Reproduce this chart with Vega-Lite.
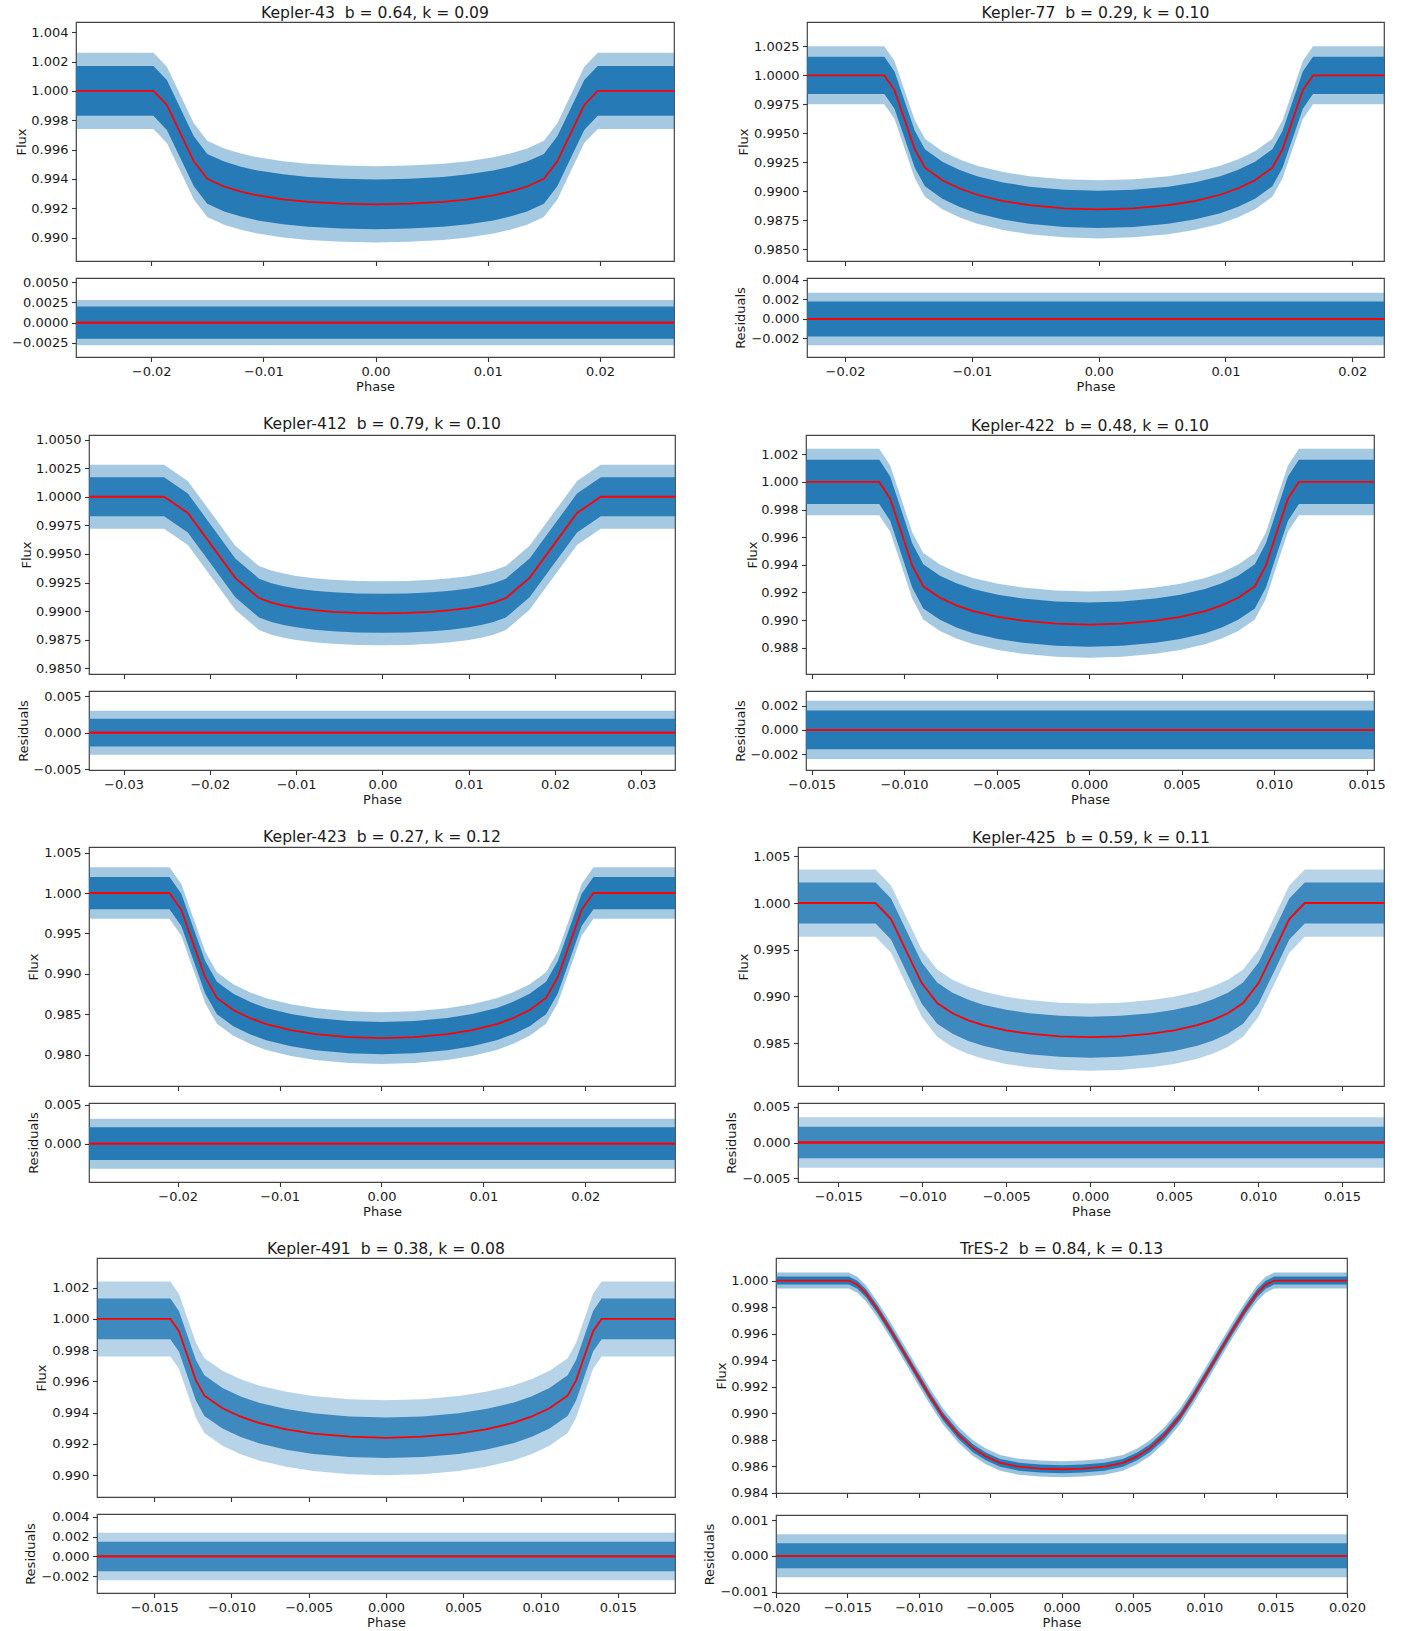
{
"$schema": "https://vega.github.io/schema/vega-lite/v6.json",
"background": "white",
"padding": {"left": 0, "top": 5, "right": 0, "bottom": 0},
"config": {
 "font": "DejaVu Sans",
 "view": {"stroke": "#444", "strokeWidth": 1.2},
 "axis": {"domain": false, "grid": false, "ticks": true, "tickColor": "#333", "tickSize": 4.5, "tickWidth": 1.1, "tickCount": 50, "labelFont": "DejaVu Sans", "labelFontSize": 13, "labelColor": "#1a1a1a", "labelPadding": 3.5, "labelFlush": false, "labelOverlap": false, "titleFont": "DejaVu Sans", "titleFontSize": 13, "titleFontWeight": "normal", "titleColor": "#1a1a1a"},
 "title": {"font": "DejaVu Sans", "fontSize": 15.6, "fontWeight": "normal", "color": "#1a1a1a", "baseline": "alphabetic", "offset": 0.6, "anchor": "middle", "frame": "group"}
},
"datasets": {
 "k43": [
  {"phase":-0.0267,"model":1,"lo1":0.9983,"hi1":1.0017,"lo2":0.9974,"hi2":1.0026},
  {"phase":-0.0198,"model":1,"lo1":0.9983,"hi1":1.0017,"lo2":0.9974,"hi2":1.0026},
  {"phase":-0.0186,"model":0.99904,"lo1":0.99734,"hi1":1.00074,"lo2":0.99644,"hi2":1.00164},
  {"phase":-0.0174,"model":0.99712,"lo1":0.99542,"hi1":0.99882,"lo2":0.99452,"hi2":0.99972},
  {"phase":-0.0162,"model":0.9952,"lo1":0.9935,"hi1":0.9969,"lo2":0.9926,"hi2":0.9978},
  {"phase":-0.015,"model":0.994,"lo1":0.9923,"hi1":0.9957,"lo2":0.9914,"hi2":0.9966},
  {"phase":-0.0135,"model":0.99348,"lo1":0.99178,"hi1":0.99518,"lo2":0.99088,"hi2":0.99608},
  {"phase":-0.012,"model":0.99313,"lo1":0.99143,"hi1":0.99483,"lo2":0.99053,"hi2":0.99573},
  {"phase":-0.0105,"model":0.99287,"lo1":0.99117,"hi1":0.99457,"lo2":0.99027,"hi2":0.99547},
  {"phase":-0.00825,"model":0.99261,"lo1":0.99091,"hi1":0.99431,"lo2":0.99001,"hi2":0.99521},
  {"phase":-0.006,"model":0.99243,"lo1":0.99073,"hi1":0.99413,"lo2":0.98983,"hi2":0.99503},
  {"phase":-0.003,"model":0.99231,"lo1":0.99061,"hi1":0.99401,"lo2":0.98971,"hi2":0.99491},
  {"phase":0,"model":0.99226,"lo1":0.99056,"hi1":0.99396,"lo2":0.98966,"hi2":0.99486},
  {"phase":0.003,"model":0.99231,"lo1":0.99061,"hi1":0.99401,"lo2":0.98971,"hi2":0.99491},
  {"phase":0.006,"model":0.99243,"lo1":0.99073,"hi1":0.99413,"lo2":0.98983,"hi2":0.99503},
  {"phase":0.00825,"model":0.99261,"lo1":0.99091,"hi1":0.99431,"lo2":0.99001,"hi2":0.99521},
  {"phase":0.0105,"model":0.99287,"lo1":0.99117,"hi1":0.99457,"lo2":0.99027,"hi2":0.99547},
  {"phase":0.012,"model":0.99313,"lo1":0.99143,"hi1":0.99483,"lo2":0.99053,"hi2":0.99573},
  {"phase":0.0135,"model":0.99348,"lo1":0.99178,"hi1":0.99518,"lo2":0.99088,"hi2":0.99608},
  {"phase":0.015,"model":0.994,"lo1":0.9923,"hi1":0.9957,"lo2":0.9914,"hi2":0.9966},
  {"phase":0.0162,"model":0.9952,"lo1":0.9935,"hi1":0.9969,"lo2":0.9926,"hi2":0.9978},
  {"phase":0.0174,"model":0.99712,"lo1":0.99542,"hi1":0.99882,"lo2":0.99452,"hi2":0.99972},
  {"phase":0.0186,"model":0.99904,"lo1":0.99734,"hi1":1.00074,"lo2":0.99644,"hi2":1.00164},
  {"phase":0.0198,"model":1,"lo1":0.9983,"hi1":1.0017,"lo2":0.9974,"hi2":1.0026},
  {"phase":0.0266,"model":1,"lo1":0.9983,"hi1":1.0017,"lo2":0.9974,"hi2":1.0026}
 ],
 "k77": [
  {"phase":-0.023,"model":1,"lo1":0.9984,"hi1":1.0016,"lo2":0.9975,"hi2":1.0025},
  {"phase":-0.0169,"model":1,"lo1":0.9984,"hi1":1.0016,"lo2":0.9975,"hi2":1.0025},
  {"phase":-0.0161,"model":0.99873,"lo1":0.99713,"hi1":1.00033,"lo2":0.99623,"hi2":1.00123},
  {"phase":-0.0153,"model":0.99618,"lo1":0.99458,"hi1":0.99778,"lo2":0.99368,"hi2":0.99868},
  {"phase":-0.0145,"model":0.99363,"lo1":0.99203,"hi1":0.99523,"lo2":0.99113,"hi2":0.99613},
  {"phase":-0.0137,"model":0.99204,"lo1":0.99044,"hi1":0.99364,"lo2":0.98954,"hi2":0.99454},
  {"phase":-0.01233,"model":0.99096,"lo1":0.98936,"hi1":0.99256,"lo2":0.98846,"hi2":0.99346},
  {"phase":-0.01096,"model":0.99025,"lo1":0.98865,"hi1":0.99185,"lo2":0.98775,"hi2":0.99275},
  {"phase":-0.00959,"model":0.98971,"lo1":0.98811,"hi1":0.99131,"lo2":0.98721,"hi2":0.99221},
  {"phase":-0.00754,"model":0.98917,"lo1":0.98757,"hi1":0.99077,"lo2":0.98667,"hi2":0.99167},
  {"phase":-0.00548,"model":0.98881,"lo1":0.98721,"hi1":0.99041,"lo2":0.98631,"hi2":0.99131},
  {"phase":-0.00274,"model":0.98854,"lo1":0.98694,"hi1":0.99014,"lo2":0.98604,"hi2":0.99104},
  {"phase":0,"model":0.98845,"lo1":0.98685,"hi1":0.99005,"lo2":0.98595,"hi2":0.99095},
  {"phase":0.00274,"model":0.98854,"lo1":0.98694,"hi1":0.99014,"lo2":0.98604,"hi2":0.99104},
  {"phase":0.00548,"model":0.98881,"lo1":0.98721,"hi1":0.99041,"lo2":0.98631,"hi2":0.99131},
  {"phase":0.00754,"model":0.98917,"lo1":0.98757,"hi1":0.99077,"lo2":0.98667,"hi2":0.99167},
  {"phase":0.00959,"model":0.98971,"lo1":0.98811,"hi1":0.99131,"lo2":0.98721,"hi2":0.99221},
  {"phase":0.01096,"model":0.99025,"lo1":0.98865,"hi1":0.99185,"lo2":0.98775,"hi2":0.99275},
  {"phase":0.01233,"model":0.99096,"lo1":0.98936,"hi1":0.99256,"lo2":0.98846,"hi2":0.99346},
  {"phase":0.0137,"model":0.99204,"lo1":0.99044,"hi1":0.99364,"lo2":0.98954,"hi2":0.99454},
  {"phase":0.0145,"model":0.99363,"lo1":0.99203,"hi1":0.99523,"lo2":0.99113,"hi2":0.99613},
  {"phase":0.0153,"model":0.99618,"lo1":0.99458,"hi1":0.99778,"lo2":0.99368,"hi2":0.99868},
  {"phase":0.0161,"model":0.99873,"lo1":0.99713,"hi1":1.00033,"lo2":0.99623,"hi2":1.00123},
  {"phase":0.0169,"model":1,"lo1":0.9984,"hi1":1.0016,"lo2":0.9975,"hi2":1.0025},
  {"phase":0.0225,"model":1,"lo1":0.9984,"hi1":1.0016,"lo2":0.9975,"hi2":1.0025}
 ],
 "k412": [
  {"phase":-0.034,"model":1,"lo1":0.9983,"hi1":1.0017,"lo2":0.9972,"hi2":1.0028},
  {"phase":-0.0253,"model":1,"lo1":0.9983,"hi1":1.0017,"lo2":0.9972,"hi2":1.0028},
  {"phase":-0.02255,"model":0.99858,"lo1":0.99688,"hi1":1.00028,"lo2":0.99578,"hi2":1.00138},
  {"phase":-0.0198,"model":0.99575,"lo1":0.99405,"hi1":0.99745,"lo2":0.99295,"hi2":0.99855},
  {"phase":-0.01705,"model":0.99291,"lo1":0.99121,"hi1":0.99461,"lo2":0.99011,"hi2":0.99571},
  {"phase":-0.0143,"model":0.99114,"lo1":0.98944,"hi1":0.99284,"lo2":0.98834,"hi2":0.99394},
  {"phase":-0.01287,"model":0.99074,"lo1":0.98904,"hi1":0.99244,"lo2":0.98794,"hi2":0.99354},
  {"phase":-0.01144,"model":0.99048,"lo1":0.98878,"hi1":0.99218,"lo2":0.98768,"hi2":0.99328},
  {"phase":-0.01001,"model":0.99028,"lo1":0.98858,"hi1":0.99198,"lo2":0.98748,"hi2":0.99308},
  {"phase":-0.00787,"model":0.99008,"lo1":0.98838,"hi1":0.99178,"lo2":0.98728,"hi2":0.99288},
  {"phase":-0.00572,"model":0.98994,"lo1":0.98824,"hi1":0.99164,"lo2":0.98714,"hi2":0.99274},
  {"phase":-0.00286,"model":0.98984,"lo1":0.98814,"hi1":0.99154,"lo2":0.98704,"hi2":0.99264},
  {"phase":0,"model":0.98981,"lo1":0.98811,"hi1":0.99151,"lo2":0.98701,"hi2":0.99261},
  {"phase":0.00286,"model":0.98984,"lo1":0.98814,"hi1":0.99154,"lo2":0.98704,"hi2":0.99264},
  {"phase":0.00572,"model":0.98994,"lo1":0.98824,"hi1":0.99164,"lo2":0.98714,"hi2":0.99274},
  {"phase":0.00787,"model":0.99008,"lo1":0.98838,"hi1":0.99178,"lo2":0.98728,"hi2":0.99288},
  {"phase":0.01001,"model":0.99028,"lo1":0.98858,"hi1":0.99198,"lo2":0.98748,"hi2":0.99308},
  {"phase":0.01144,"model":0.99048,"lo1":0.98878,"hi1":0.99218,"lo2":0.98768,"hi2":0.99328},
  {"phase":0.01287,"model":0.99074,"lo1":0.98904,"hi1":0.99244,"lo2":0.98794,"hi2":0.99354},
  {"phase":0.0143,"model":0.99114,"lo1":0.98944,"hi1":0.99284,"lo2":0.98834,"hi2":0.99394},
  {"phase":0.01705,"model":0.99291,"lo1":0.99121,"hi1":0.99461,"lo2":0.99011,"hi2":0.99571},
  {"phase":0.0198,"model":0.99575,"lo1":0.99405,"hi1":0.99745,"lo2":0.99295,"hi2":0.99855},
  {"phase":0.02255,"model":0.99858,"lo1":0.99688,"hi1":1.00028,"lo2":0.99578,"hi2":1.00138},
  {"phase":0.0253,"model":1,"lo1":0.9983,"hi1":1.0017,"lo2":0.9972,"hi2":1.0028},
  {"phase":0.0339,"model":1,"lo1":0.9983,"hi1":1.0017,"lo2":0.9972,"hi2":1.0028}
 ],
 "k422": [
  {"phase":-0.0153,"model":1,"lo1":0.9984,"hi1":1.0016,"lo2":0.9976,"hi2":1.0024},
  {"phase":-0.01134,"model":1,"lo1":0.9984,"hi1":1.0016,"lo2":0.9976,"hi2":1.0024},
  {"phase":-0.01075,"model":0.99879,"lo1":0.99719,"hi1":1.00039,"lo2":0.99639,"hi2":1.00119},
  {"phase":-0.01015,"model":0.99638,"lo1":0.99478,"hi1":0.99798,"lo2":0.99398,"hi2":0.99878},
  {"phase":-0.00956,"model":0.99396,"lo1":0.99236,"hi1":0.99556,"lo2":0.99156,"hi2":0.99636},
  {"phase":-0.00896,"model":0.99245,"lo1":0.99085,"hi1":0.99405,"lo2":0.99005,"hi2":0.99485},
  {"phase":-0.00806,"model":0.99162,"lo1":0.99002,"hi1":0.99322,"lo2":0.98922,"hi2":0.99402},
  {"phase":-0.00717,"model":0.99107,"lo1":0.98947,"hi1":0.99267,"lo2":0.98867,"hi2":0.99347},
  {"phase":-0.00627,"model":0.99065,"lo1":0.98905,"hi1":0.99225,"lo2":0.98825,"hi2":0.99305},
  {"phase":-0.00493,"model":0.99023,"lo1":0.98863,"hi1":0.99183,"lo2":0.98783,"hi2":0.99263},
  {"phase":-0.00358,"model":0.98996,"lo1":0.98836,"hi1":0.99156,"lo2":0.98756,"hi2":0.99236},
  {"phase":-0.00179,"model":0.98975,"lo1":0.98815,"hi1":0.99135,"lo2":0.98735,"hi2":0.99215},
  {"phase":0,"model":0.98968,"lo1":0.98808,"hi1":0.99128,"lo2":0.98728,"hi2":0.99208},
  {"phase":0.00179,"model":0.98975,"lo1":0.98815,"hi1":0.99135,"lo2":0.98735,"hi2":0.99215},
  {"phase":0.00358,"model":0.98996,"lo1":0.98836,"hi1":0.99156,"lo2":0.98756,"hi2":0.99236},
  {"phase":0.00493,"model":0.99023,"lo1":0.98863,"hi1":0.99183,"lo2":0.98783,"hi2":0.99263},
  {"phase":0.00627,"model":0.99065,"lo1":0.98905,"hi1":0.99225,"lo2":0.98825,"hi2":0.99305},
  {"phase":0.00717,"model":0.99107,"lo1":0.98947,"hi1":0.99267,"lo2":0.98867,"hi2":0.99347},
  {"phase":0.00806,"model":0.99162,"lo1":0.99002,"hi1":0.99322,"lo2":0.98922,"hi2":0.99402},
  {"phase":0.00896,"model":0.99245,"lo1":0.99085,"hi1":0.99405,"lo2":0.99005,"hi2":0.99485},
  {"phase":0.00956,"model":0.99396,"lo1":0.99236,"hi1":0.99556,"lo2":0.99156,"hi2":0.99636},
  {"phase":0.01015,"model":0.99638,"lo1":0.99478,"hi1":0.99798,"lo2":0.99398,"hi2":0.99878},
  {"phase":0.01075,"model":0.99879,"lo1":0.99719,"hi1":1.00039,"lo2":0.99639,"hi2":1.00119},
  {"phase":0.01134,"model":1,"lo1":0.9984,"hi1":1.0016,"lo2":0.9976,"hi2":1.0024},
  {"phase":0.0154,"model":1,"lo1":0.9984,"hi1":1.0016,"lo2":0.9976,"hi2":1.0024}
 ],
 "k423": [
  {"phase":-0.0287,"model":1,"lo1":0.998,"hi1":1.002,"lo2":0.9968,"hi2":1.0032},
  {"phase":-0.0208,"model":1,"lo1":0.998,"hi1":1.002,"lo2":0.9968,"hi2":1.0032},
  {"phase":-0.01964,"model":0.99792,"lo1":0.99592,"hi1":0.99992,"lo2":0.99472,"hi2":1.00112},
  {"phase":-0.01848,"model":0.99376,"lo1":0.99176,"hi1":0.99576,"lo2":0.99056,"hi2":0.99696},
  {"phase":-0.01731,"model":0.9896,"lo1":0.9876,"hi1":0.9916,"lo2":0.9864,"hi2":0.9928},
  {"phase":-0.01615,"model":0.987,"lo1":0.985,"hi1":0.989,"lo2":0.9838,"hi2":0.9902},
  {"phase":-0.01454,"model":0.98551,"lo1":0.98351,"hi1":0.98751,"lo2":0.98231,"hi2":0.98871},
  {"phase":-0.01292,"model":0.98452,"lo1":0.98252,"hi1":0.98652,"lo2":0.98132,"hi2":0.98772},
  {"phase":-0.01131,"model":0.98377,"lo1":0.98177,"hi1":0.98577,"lo2":0.98057,"hi2":0.98697},
  {"phase":-0.00888,"model":0.98302,"lo1":0.98102,"hi1":0.98502,"lo2":0.97982,"hi2":0.98622},
  {"phase":-0.00646,"model":0.98253,"lo1":0.98053,"hi1":0.98453,"lo2":0.97933,"hi2":0.98573},
  {"phase":-0.00323,"model":0.98216,"lo1":0.98016,"hi1":0.98416,"lo2":0.97896,"hi2":0.98536},
  {"phase":0,"model":0.98203,"lo1":0.98003,"hi1":0.98403,"lo2":0.97883,"hi2":0.98523},
  {"phase":0.00323,"model":0.98216,"lo1":0.98016,"hi1":0.98416,"lo2":0.97896,"hi2":0.98536},
  {"phase":0.00646,"model":0.98253,"lo1":0.98053,"hi1":0.98453,"lo2":0.97933,"hi2":0.98573},
  {"phase":0.00888,"model":0.98302,"lo1":0.98102,"hi1":0.98502,"lo2":0.97982,"hi2":0.98622},
  {"phase":0.01131,"model":0.98377,"lo1":0.98177,"hi1":0.98577,"lo2":0.98057,"hi2":0.98697},
  {"phase":0.01292,"model":0.98452,"lo1":0.98252,"hi1":0.98652,"lo2":0.98132,"hi2":0.98772},
  {"phase":0.01454,"model":0.98551,"lo1":0.98351,"hi1":0.98751,"lo2":0.98231,"hi2":0.98871},
  {"phase":0.01615,"model":0.987,"lo1":0.985,"hi1":0.989,"lo2":0.9838,"hi2":0.9902},
  {"phase":0.01731,"model":0.9896,"lo1":0.9876,"hi1":0.9916,"lo2":0.9864,"hi2":0.9928},
  {"phase":0.01848,"model":0.99376,"lo1":0.99176,"hi1":0.99576,"lo2":0.99056,"hi2":0.99696},
  {"phase":0.01964,"model":0.99792,"lo1":0.99592,"hi1":0.99992,"lo2":0.99472,"hi2":1.00112},
  {"phase":0.0208,"model":1,"lo1":0.998,"hi1":1.002,"lo2":0.9968,"hi2":1.0032},
  {"phase":0.0288,"model":1,"lo1":0.998,"hi1":1.002,"lo2":0.9968,"hi2":1.0032}
 ],
 "k425": [
  {"phase":-0.0174,"model":1,"lo1":0.9978,"hi1":1.0022,"lo2":0.9964,"hi2":1.0036},
  {"phase":-0.01278,"model":1,"lo1":0.9978,"hi1":1.0022,"lo2":0.9964,"hi2":1.0036},
  {"phase":-0.01186,"model":0.99828,"lo1":0.99608,"hi1":1.00048,"lo2":0.99468,"hi2":1.00188},
  {"phase":-0.01095,"model":0.99485,"lo1":0.99265,"hi1":0.99705,"lo2":0.99125,"hi2":0.99845},
  {"phase":-0.01003,"model":0.99142,"lo1":0.98922,"hi1":0.99362,"lo2":0.98782,"hi2":0.99502},
  {"phase":-0.00911,"model":0.98928,"lo1":0.98708,"hi1":0.99148,"lo2":0.98568,"hi2":0.99288},
  {"phase":-0.0082,"model":0.98819,"lo1":0.98599,"hi1":0.99039,"lo2":0.98459,"hi2":0.99179},
  {"phase":-0.00729,"model":0.98746,"lo1":0.98526,"hi1":0.98966,"lo2":0.98386,"hi2":0.99106},
  {"phase":-0.00638,"model":0.98691,"lo1":0.98471,"hi1":0.98911,"lo2":0.98331,"hi2":0.99051},
  {"phase":-0.00501,"model":0.98636,"lo1":0.98416,"hi1":0.98856,"lo2":0.98276,"hi2":0.98996},
  {"phase":-0.00364,"model":0.986,"lo1":0.9838,"hi1":0.9882,"lo2":0.9824,"hi2":0.9896},
  {"phase":-0.00182,"model":0.98572,"lo1":0.98352,"hi1":0.98792,"lo2":0.98212,"hi2":0.98932},
  {"phase":0,"model":0.98563,"lo1":0.98343,"hi1":0.98783,"lo2":0.98203,"hi2":0.98923},
  {"phase":0.00182,"model":0.98572,"lo1":0.98352,"hi1":0.98792,"lo2":0.98212,"hi2":0.98932},
  {"phase":0.00364,"model":0.986,"lo1":0.9838,"hi1":0.9882,"lo2":0.9824,"hi2":0.9896},
  {"phase":0.00501,"model":0.98636,"lo1":0.98416,"hi1":0.98856,"lo2":0.98276,"hi2":0.98996},
  {"phase":0.00638,"model":0.98691,"lo1":0.98471,"hi1":0.98911,"lo2":0.98331,"hi2":0.99051},
  {"phase":0.00729,"model":0.98746,"lo1":0.98526,"hi1":0.98966,"lo2":0.98386,"hi2":0.99106},
  {"phase":0.0082,"model":0.98819,"lo1":0.98599,"hi1":0.99039,"lo2":0.98459,"hi2":0.99179},
  {"phase":0.00911,"model":0.98928,"lo1":0.98708,"hi1":0.99148,"lo2":0.98568,"hi2":0.99288},
  {"phase":0.01003,"model":0.99142,"lo1":0.98922,"hi1":0.99362,"lo2":0.98782,"hi2":0.99502},
  {"phase":0.01095,"model":0.99485,"lo1":0.99265,"hi1":0.99705,"lo2":0.99125,"hi2":0.99845},
  {"phase":0.01186,"model":0.99828,"lo1":0.99608,"hi1":1.00048,"lo2":0.99468,"hi2":1.00188},
  {"phase":0.01278,"model":1,"lo1":0.9978,"hi1":1.0022,"lo2":0.9964,"hi2":1.0036},
  {"phase":0.0175,"model":1,"lo1":0.9978,"hi1":1.0022,"lo2":0.9964,"hi2":1.0036}
 ],
 "k491": [
  {"phase":-0.0187,"model":1,"lo1":0.9987,"hi1":1.0013,"lo2":0.9976,"hi2":1.0024},
  {"phase":-0.01395,"model":1,"lo1":0.9987,"hi1":1.0013,"lo2":0.9976,"hi2":1.0024},
  {"phase":-0.0134,"model":0.99921,"lo1":0.99791,"hi1":1.00051,"lo2":0.99681,"hi2":1.00161},
  {"phase":-0.01285,"model":0.99764,"lo1":0.99634,"hi1":0.99894,"lo2":0.99524,"hi2":1.00004},
  {"phase":-0.0123,"model":0.99607,"lo1":0.99477,"hi1":0.99737,"lo2":0.99367,"hi2":0.99847},
  {"phase":-0.01175,"model":0.99509,"lo1":0.99379,"hi1":0.99639,"lo2":0.99269,"hi2":0.99749},
  {"phase":-0.01058,"model":0.99428,"lo1":0.99298,"hi1":0.99558,"lo2":0.99188,"hi2":0.99668},
  {"phase":-0.0094,"model":0.99374,"lo1":0.99244,"hi1":0.99504,"lo2":0.99134,"hi2":0.99614},
  {"phase":-0.00823,"model":0.99334,"lo1":0.99204,"hi1":0.99464,"lo2":0.99094,"hi2":0.99574},
  {"phase":-0.00646,"model":0.99293,"lo1":0.99163,"hi1":0.99423,"lo2":0.99053,"hi2":0.99533},
  {"phase":-0.0047,"model":0.99266,"lo1":0.99136,"hi1":0.99396,"lo2":0.99026,"hi2":0.99506},
  {"phase":-0.00235,"model":0.99246,"lo1":0.99116,"hi1":0.99376,"lo2":0.99006,"hi2":0.99486},
  {"phase":0,"model":0.99239,"lo1":0.99109,"hi1":0.99369,"lo2":0.98999,"hi2":0.99479},
  {"phase":0.00235,"model":0.99246,"lo1":0.99116,"hi1":0.99376,"lo2":0.99006,"hi2":0.99486},
  {"phase":0.0047,"model":0.99266,"lo1":0.99136,"hi1":0.99396,"lo2":0.99026,"hi2":0.99506},
  {"phase":0.00646,"model":0.99293,"lo1":0.99163,"hi1":0.99423,"lo2":0.99053,"hi2":0.99533},
  {"phase":0.00823,"model":0.99334,"lo1":0.99204,"hi1":0.99464,"lo2":0.99094,"hi2":0.99574},
  {"phase":0.0094,"model":0.99374,"lo1":0.99244,"hi1":0.99504,"lo2":0.99134,"hi2":0.99614},
  {"phase":0.01058,"model":0.99428,"lo1":0.99298,"hi1":0.99558,"lo2":0.99188,"hi2":0.99668},
  {"phase":0.01175,"model":0.99509,"lo1":0.99379,"hi1":0.99639,"lo2":0.99269,"hi2":0.99749},
  {"phase":0.0123,"model":0.99607,"lo1":0.99477,"hi1":0.99737,"lo2":0.99367,"hi2":0.99847},
  {"phase":0.01285,"model":0.99764,"lo1":0.99634,"hi1":0.99894,"lo2":0.99524,"hi2":1.00004},
  {"phase":0.0134,"model":0.99921,"lo1":0.99791,"hi1":1.00051,"lo2":0.99681,"hi2":1.00161},
  {"phase":0.01395,"model":1,"lo1":0.9987,"hi1":1.0013,"lo2":0.9976,"hi2":1.0024},
  {"phase":0.0187,"model":1,"lo1":0.9987,"hi1":1.0013,"lo2":0.9976,"hi2":1.0024}
 ],
 "tres": [
  {"phase":-0.02,"model":1,"lo1":0.9997,"hi1":1.0003,"lo2":0.9994,"hi2":1.0006},
  {"phase":-0.0149,"model":1,"lo1":0.9997,"hi1":1.0003,"lo2":0.9994,"hi2":1.0006},
  {"phase":-0.0143,"model":0.99968,"lo1":0.99938,"hi1":0.99998,"lo2":0.99908,"hi2":1.00028},
  {"phase":-0.0137,"model":0.99905,"lo1":0.99875,"hi1":0.99935,"lo2":0.99845,"hi2":0.99965},
  {"phase":-0.0129,"model":0.99783,"lo1":0.99753,"hi1":0.99813,"lo2":0.99723,"hi2":0.99843},
  {"phase":-0.012,"model":0.9963,"lo1":0.996,"hi1":0.9966,"lo2":0.9957,"hi2":0.9969},
  {"phase":-0.0111,"model":0.99468,"lo1":0.99438,"hi1":0.99498,"lo2":0.99408,"hi2":0.99528},
  {"phase":-0.0102,"model":0.99303,"lo1":0.99273,"hi1":0.99333,"lo2":0.99243,"hi2":0.99363},
  {"phase":-0.0092,"model":0.99125,"lo1":0.99095,"hi1":0.99155,"lo2":0.99065,"hi2":0.99185},
  {"phase":-0.0083,"model":0.98976,"lo1":0.98946,"hi1":0.99006,"lo2":0.98916,"hi2":0.99036},
  {"phase":-0.0072,"model":0.98835,"lo1":0.98805,"hi1":0.98865,"lo2":0.98775,"hi2":0.98895},
  {"phase":-0.0062,"model":0.98737,"lo1":0.98707,"hi1":0.98767,"lo2":0.98677,"hi2":0.98797},
  {"phase":-0.0053,"model":0.98675,"lo1":0.98645,"hi1":0.98705,"lo2":0.98615,"hi2":0.98735},
  {"phase":-0.0043,"model":0.98626,"lo1":0.98596,"hi1":0.98656,"lo2":0.98566,"hi2":0.98686},
  {"phase":-0.003,"model":0.98597,"lo1":0.98567,"hi1":0.98627,"lo2":0.98537,"hi2":0.98657},
  {"phase":-0.0015,"model":0.98583,"lo1":0.98553,"hi1":0.98613,"lo2":0.98523,"hi2":0.98643},
  {"phase":0,"model":0.98578,"lo1":0.98548,"hi1":0.98608,"lo2":0.98518,"hi2":0.98638},
  {"phase":0.0015,"model":0.98583,"lo1":0.98553,"hi1":0.98613,"lo2":0.98523,"hi2":0.98643},
  {"phase":0.003,"model":0.98597,"lo1":0.98567,"hi1":0.98627,"lo2":0.98537,"hi2":0.98657},
  {"phase":0.0043,"model":0.98626,"lo1":0.98596,"hi1":0.98656,"lo2":0.98566,"hi2":0.98686},
  {"phase":0.0053,"model":0.98675,"lo1":0.98645,"hi1":0.98705,"lo2":0.98615,"hi2":0.98735},
  {"phase":0.0062,"model":0.98737,"lo1":0.98707,"hi1":0.98767,"lo2":0.98677,"hi2":0.98797},
  {"phase":0.0072,"model":0.98835,"lo1":0.98805,"hi1":0.98865,"lo2":0.98775,"hi2":0.98895},
  {"phase":0.0083,"model":0.98976,"lo1":0.98946,"hi1":0.99006,"lo2":0.98916,"hi2":0.99036},
  {"phase":0.0092,"model":0.99125,"lo1":0.99095,"hi1":0.99155,"lo2":0.99065,"hi2":0.99185},
  {"phase":0.0102,"model":0.99303,"lo1":0.99273,"hi1":0.99333,"lo2":0.99243,"hi2":0.99363},
  {"phase":0.0111,"model":0.99468,"lo1":0.99438,"hi1":0.99498,"lo2":0.99408,"hi2":0.99528},
  {"phase":0.012,"model":0.9963,"lo1":0.996,"hi1":0.9966,"lo2":0.9957,"hi2":0.9969},
  {"phase":0.0129,"model":0.99783,"lo1":0.99753,"hi1":0.99813,"lo2":0.99723,"hi2":0.99843},
  {"phase":0.0137,"model":0.99905,"lo1":0.99875,"hi1":0.99935,"lo2":0.99845,"hi2":0.99965},
  {"phase":0.0143,"model":0.99968,"lo1":0.99938,"hi1":0.99998,"lo2":0.99908,"hi2":1.00028},
  {"phase":0.0149,"model":1,"lo1":0.9997,"hi1":1.0003,"lo2":0.9994,"hi2":1.0006},
  {"phase":0.02,"model":1,"lo1":0.9997,"hi1":1.0003,"lo2":0.9994,"hi2":1.0006}
 ],
 "r43": [{"phase":-0.0267,"lo1":-0.002,"hi1":0.002,"lo2":-0.0028,"hi2":0.0028},{"phase":0.0266,"lo1":-0.002,"hi1":0.002,"lo2":-0.0028,"hi2":0.0028}],
 "r77": [{"phase":-0.023,"lo1":-0.0018,"hi1":0.0018,"lo2":-0.0027,"hi2":0.0027},{"phase":0.0225,"lo1":-0.0018,"hi1":0.0018,"lo2":-0.0027,"hi2":0.0027}],
 "r412": [{"phase":-0.034,"lo1":-0.0019,"hi1":0.0019,"lo2":-0.003,"hi2":0.003},{"phase":0.0339,"lo1":-0.0019,"hi1":0.0019,"lo2":-0.003,"hi2":0.003}],
 "r422": [{"phase":-0.0153,"lo1":-0.0016,"hi1":0.0016,"lo2":-0.0024,"hi2":0.0024},{"phase":0.0154,"lo1":-0.0016,"hi1":0.0016,"lo2":-0.0024,"hi2":0.0024}],
 "r423": [{"phase":-0.0287,"lo1":-0.0021,"hi1":0.0021,"lo2":-0.0032,"hi2":0.0032},{"phase":0.0288,"lo1":-0.0021,"hi1":0.0021,"lo2":-0.0032,"hi2":0.0032}],
 "r425": [{"phase":-0.0174,"lo1":-0.0022,"hi1":0.0022,"lo2":-0.0035,"hi2":0.0035},{"phase":0.0175,"lo1":-0.0022,"hi1":0.0022,"lo2":-0.0035,"hi2":0.0035}],
 "r491": [{"phase":-0.0187,"lo1":-0.0015,"hi1":0.0015,"lo2":-0.0024,"hi2":0.0024},{"phase":0.0187,"lo1":-0.0015,"hi1":0.0015,"lo2":-0.0024,"hi2":0.0024}],
 "rtres": [{"phase":-0.02,"lo1":-0.00035,"hi1":0.00035,"lo2":-0.0006,"hi2":0.0006},{"phase":0.02,"lo1":-0.00035,"hi1":0.00035,"lo2":-0.0006,"hi2":0.0006}]
},
"spacing": 22,
"vconcat": [
 {"hconcat": [
  {"hconcat": [
   {"width": 11, "height": 1, "data": {"values": []}, "mark": "point", "view": {"stroke": null}},
   {"vconcat": [
    {"width": 598, "height": 239, "title": "Kepler-43\u00a0 b = 0.64, k = 0.09", "data": {"name": "k43"},
     "layer": [
      {"mark": {"type": "area", "color": "#1f77b4", "opacity": 0.4, "clip": true},
       "encoding": {"x": {"field": "phase", "type": "quantitative", "title": null, "scale": {"domain": [-0.0267, 0.0266], "nice": false, "zero": false}, "axis": {"values": [-0.02,-0.01,0,0.01,0.02], "tickCount": 50, "labels": false}},
        "y": {"field": "lo2", "type": "quantitative", "title": "Flux", "scale": {"domain": [0.9884, 1.0047], "nice": false, "zero": false}, "axis": {"values": [0.99,0.992,0.994,0.996,0.998,1,1.002,1.004], "tickCount": 50, "format": ".3f", "labelOverlap": false, "minExtent": 45.5, "maxExtent": 45.5, "titlePadding": 2}},
        "y2": {"field": "hi2"}}},
      {"mark": {"type": "area", "color": "#1f77b4", "opacity": 0.95, "clip": true},
       "encoding": {"x": {"field": "phase", "type": "quantitative", "title": null}, "y": {"field": "lo1", "type": "quantitative", "title": "Flux"}, "y2": {"field": "hi1"}}},
      {"mark": {"type": "line", "color": "red", "strokeWidth": 1.8, "clip": true},
       "encoding": {"x": {"field": "phase", "type": "quantitative", "title": null}, "y": {"field": "model", "type": "quantitative", "title": "Flux"}}}
     ]},
    {"width": 598, "height": 79, "data": {"name": "r43"},
     "layer": [
      {"mark": {"type": "area", "color": "#1f77b4", "opacity": 0.4, "clip": true},
       "encoding": {"x": {"field": "phase", "type": "quantitative", "title": "Phase", "scale": {"domain": [-0.0267, 0.0266], "nice": false, "zero": false}, "axis": {"values": [-0.02,-0.01,0,0.01,0.02], "tickCount": 50, "format": ".2f", "labelOverlap": false, "titlePadding": 2}},
        "y": {"field": "lo2", "type": "quantitative", "title": null, "scale": {"domain": [-0.00424, 0.0055], "nice": false, "zero": false}, "axis": {"values": [-0.0025,0,0.0025,0.005], "tickCount": 50, "format": ".4f", "labelOverlap": false}},
        "y2": {"field": "hi2"}}},
      {"mark": {"type": "area", "color": "#1f77b4", "opacity": 0.95, "clip": true},
       "encoding": {"x": {"field": "phase", "type": "quantitative", "title": "Phase"}, "y": {"field": "lo1", "type": "quantitative", "title": null}, "y2": {"field": "hi1"}}},
      {"mark": {"type": "rule", "color": "red", "strokeWidth": 1.8},
       "encoding": {"y": {"datum": 0, "type": "quantitative", "title": null}}}
     ]}
   ], "spacing": 17, "bounds": "flush"}
  ], "spacing": 0},
  {"vconcat": [
   {"width": 577, "height": 239, "title": "Kepler-77\u00a0 b = 0.29, k = 0.10", "data": {"name": "k77"},
    "layer": [
     {"mark": {"type": "area", "color": "#1f77b4", "opacity": 0.4, "clip": true},
      "encoding": {"x": {"field": "phase", "type": "quantitative", "title": null, "scale": {"domain": [-0.023, 0.0225], "nice": false, "zero": false}, "axis": {"values": [-0.02,-0.01,0,0.01,0.02], "tickCount": 50, "labels": false}},
       "y": {"field": "lo2", "type": "quantitative", "title": "Flux", "scale": {"domain": [0.984, 1.0046], "nice": false, "zero": false}, "axis": {"values": [0.985,0.9875,0.99,0.9925,0.995,0.9975,1,1.0025], "tickCount": 50, "format": ".4f", "labelOverlap": false, "minExtent": 55, "maxExtent": 55, "titlePadding": 2}},
       "y2": {"field": "hi2"}}},
     {"mark": {"type": "area", "color": "#1f77b4", "opacity": 0.95, "clip": true},
      "encoding": {"x": {"field": "phase", "type": "quantitative", "title": null}, "y": {"field": "lo1", "type": "quantitative", "title": "Flux"}, "y2": {"field": "hi1"}}},
     {"mark": {"type": "line", "color": "red", "strokeWidth": 1.8, "clip": true},
      "encoding": {"x": {"field": "phase", "type": "quantitative", "title": null}, "y": {"field": "model", "type": "quantitative", "title": "Flux"}}}
    ]},
   {"width": 577, "height": 79, "data": {"name": "r77"},
    "layer": [
     {"mark": {"type": "area", "color": "#1f77b4", "opacity": 0.4, "clip": true},
      "encoding": {"x": {"field": "phase", "type": "quantitative", "title": "Phase", "scale": {"domain": [-0.023, 0.0225], "nice": false, "zero": false}, "axis": {"values": [-0.02,-0.01,0,0.01,0.02], "tickCount": 50, "format": ".2f", "labelOverlap": false, "titlePadding": 2}},
       "y": {"field": "lo2", "type": "quantitative", "title": "Residuals", "scale": {"domain": [-0.0039, 0.0042], "nice": false, "zero": false}, "axis": {"values": [-0.002,0,0.002,0.004], "tickCount": 50, "format": ".3f", "labelOverlap": false, "minExtent": 57.5, "maxExtent": 57.5, "titlePadding": 2}},
       "y2": {"field": "hi2"}}},
     {"mark": {"type": "area", "color": "#1f77b4", "opacity": 0.95, "clip": true},
      "encoding": {"x": {"field": "phase", "type": "quantitative", "title": "Phase"}, "y": {"field": "lo1", "type": "quantitative", "title": "Residuals"}, "y2": {"field": "hi1"}}},
     {"mark": {"type": "rule", "color": "red", "strokeWidth": 1.8},
      "encoding": {"y": {"datum": 0, "type": "quantitative", "title": "Residuals"}}}
    ]}
  ], "spacing": 17, "bounds": "flush"}
 ], "spacing": 57},
 {"hconcat": [
  {"hconcat": [
   {"width": 16, "height": 1, "data": {"values": []}, "mark": "point", "view": {"stroke": null}},
   {"vconcat": [
    {"width": 586, "height": 239, "title": "Kepler-412\u00a0 b = 0.79, k = 0.10", "data": {"name": "k412"},
     "layer": [
      {"mark": {"type": "area", "color": "#1f77b4", "opacity": 0.4, "clip": true},
       "encoding": {"x": {"field": "phase", "type": "quantitative", "title": null, "scale": {"domain": [-0.034, 0.0339], "nice": false, "zero": false}, "axis": {"values": [-0.03,-0.02,-0.01,0,0.01,0.02,0.03], "tickCount": 50, "labels": false}},
        "y": {"field": "lo2", "type": "quantitative", "title": "Flux", "scale": {"domain": [0.9845, 1.0054], "nice": false, "zero": false}, "axis": {"values": [0.985,0.9875,0.99,0.9925,0.995,0.9975,1,1.0025,1.005], "tickCount": 50, "format": ".4f", "labelOverlap": false, "minExtent": 53.5, "maxExtent": 53.5, "titlePadding": 2}},
        "y2": {"field": "hi2"}}},
      {"mark": {"type": "area", "color": "#1f77b4", "opacity": 0.9, "clip": true},
       "encoding": {"x": {"field": "phase", "type": "quantitative", "title": null}, "y": {"field": "lo1", "type": "quantitative", "title": "Flux"}, "y2": {"field": "hi1"}}},
      {"mark": {"type": "line", "color": "red", "strokeWidth": 1.8, "clip": true},
       "encoding": {"x": {"field": "phase", "type": "quantitative", "title": null}, "y": {"field": "model", "type": "quantitative", "title": "Flux"}}}
     ]},
    {"width": 586, "height": 79, "data": {"name": "r412"},
     "layer": [
      {"mark": {"type": "area", "color": "#1f77b4", "opacity": 0.4, "clip": true},
       "encoding": {"x": {"field": "phase", "type": "quantitative", "title": "Phase", "scale": {"domain": [-0.034, 0.0339], "nice": false, "zero": false}, "axis": {"values": [-0.03,-0.02,-0.01,0,0.01,0.02,0.03], "tickCount": 50, "format": ".2f", "labelOverlap": false, "titlePadding": 2}},
        "y": {"field": "lo2", "type": "quantitative", "title": "Residuals", "scale": {"domain": [-0.0051, 0.0057], "nice": false, "zero": false}, "axis": {"values": [-0.005,0,0.005], "tickCount": 50, "format": ".3f", "labelOverlap": false, "minExtent": 56.8, "maxExtent": 56.8, "titlePadding": 2}},
        "y2": {"field": "hi2"}}},
      {"mark": {"type": "area", "color": "#1f77b4", "opacity": 0.9, "clip": true},
       "encoding": {"x": {"field": "phase", "type": "quantitative", "title": "Phase"}, "y": {"field": "lo1", "type": "quantitative", "title": "Residuals"}, "y2": {"field": "hi1"}}},
      {"mark": {"type": "rule", "color": "red", "strokeWidth": 1.8},
       "encoding": {"y": {"datum": 0, "type": "quantitative", "title": "Residuals"}}}
     ]}
   ], "spacing": 17, "bounds": "flush"}
  ], "spacing": 0},
  {"vconcat": [
   {"width": 568, "height": 239, "title": "Kepler-422\u00a0 b = 0.48, k = 0.10", "data": {"name": "k422"},
    "layer": [
     {"mark": {"type": "area", "color": "#1f77b4", "opacity": 0.4, "clip": true},
      "encoding": {"x": {"field": "phase", "type": "quantitative", "title": null, "scale": {"domain": [-0.0153, 0.0154], "nice": false, "zero": false}, "axis": {"values": [-0.015,-0.01,-0.005,0,0.005,0.01,0.015], "tickCount": 50, "labels": false}},
       "y": {"field": "lo2", "type": "quantitative", "title": "Flux", "scale": {"domain": [0.9861, 1.0034], "nice": false, "zero": false}, "axis": {"values": [0.988,0.99,0.992,0.994,0.996,0.998,1,1.002], "tickCount": 50, "format": ".3f", "labelOverlap": false, "minExtent": 44.8, "maxExtent": 44.8, "titlePadding": 2}},
       "y2": {"field": "hi2"}}},
     {"mark": {"type": "area", "color": "#1f77b4", "opacity": 0.95, "clip": true},
      "encoding": {"x": {"field": "phase", "type": "quantitative", "title": null}, "y": {"field": "lo1", "type": "quantitative", "title": "Flux"}, "y2": {"field": "hi1"}}},
     {"mark": {"type": "line", "color": "red", "strokeWidth": 1.8, "clip": true},
      "encoding": {"x": {"field": "phase", "type": "quantitative", "title": null}, "y": {"field": "model", "type": "quantitative", "title": "Flux"}}}
    ]},
   {"width": 568, "height": 79, "data": {"name": "r422"},
    "layer": [
     {"mark": {"type": "area", "color": "#1f77b4", "opacity": 0.4, "clip": true},
      "encoding": {"x": {"field": "phase", "type": "quantitative", "title": "Phase", "scale": {"domain": [-0.0153, 0.0154], "nice": false, "zero": false}, "axis": {"values": [-0.015,-0.01,-0.005,0,0.005,0.01,0.015], "tickCount": 50, "format": ".3f", "labelOverlap": false, "titlePadding": 2}},
       "y": {"field": "lo2", "type": "quantitative", "title": "Residuals", "scale": {"domain": [-0.0033, 0.0032], "nice": false, "zero": false}, "axis": {"values": [-0.002,0,0.002], "tickCount": 50, "format": ".3f", "labelOverlap": false, "minExtent": 56.5, "maxExtent": 56.5, "titlePadding": 2}},
       "y2": {"field": "hi2"}}},
     {"mark": {"type": "area", "color": "#1f77b4", "opacity": 0.95, "clip": true},
      "encoding": {"x": {"field": "phase", "type": "quantitative", "title": "Phase"}, "y": {"field": "lo1", "type": "quantitative", "title": "Residuals"}, "y2": {"field": "hi1"}}},
     {"mark": {"type": "rule", "color": "red", "strokeWidth": 1.8},
      "encoding": {"y": {"datum": 0, "type": "quantitative", "title": "Residuals"}}}
    ]}
  ], "spacing": 17, "bounds": "flush"}
 ], "spacing": 56},
 {"hconcat": [
  {"hconcat": [
   {"width": 26, "height": 1, "data": {"values": []}, "mark": "point", "view": {"stroke": null}},
   {"vconcat": [
    {"width": 586, "height": 239, "title": "Kepler-423\u00a0 b = 0.27, k = 0.12", "data": {"name": "k423"},
     "layer": [
      {"mark": {"type": "area", "color": "#1f77b4", "opacity": 0.4, "clip": true},
       "encoding": {"x": {"field": "phase", "type": "quantitative", "title": null, "scale": {"domain": [-0.0287, 0.0288], "nice": false, "zero": false}, "axis": {"values": [-0.02,-0.01,0,0.01,0.02], "tickCount": 50, "labels": false}},
        "y": {"field": "lo2", "type": "quantitative", "title": "Flux", "scale": {"domain": [0.9761, 1.0057], "nice": false, "zero": false}, "axis": {"values": [0.98,0.985,0.99,0.995,1,1.005], "tickCount": 50, "format": ".3f", "labelOverlap": false, "minExtent": 46.5, "maxExtent": 46.5, "titlePadding": 2}},
        "y2": {"field": "hi2"}}},
      {"mark": {"type": "area", "color": "#1f77b4", "opacity": 0.95, "clip": true},
       "encoding": {"x": {"field": "phase", "type": "quantitative", "title": null}, "y": {"field": "lo1", "type": "quantitative", "title": "Flux"}, "y2": {"field": "hi1"}}},
      {"mark": {"type": "line", "color": "red", "strokeWidth": 1.8, "clip": true},
       "encoding": {"x": {"field": "phase", "type": "quantitative", "title": null}, "y": {"field": "model", "type": "quantitative", "title": "Flux"}}}
     ]},
    {"width": 586, "height": 79, "data": {"name": "r423"},
     "layer": [
      {"mark": {"type": "area", "color": "#1f77b4", "opacity": 0.4, "clip": true},
       "encoding": {"x": {"field": "phase", "type": "quantitative", "title": "Phase", "scale": {"domain": [-0.0287, 0.0288], "nice": false, "zero": false}, "axis": {"values": [-0.02,-0.01,0,0.01,0.02], "tickCount": 50, "format": ".2f", "labelOverlap": false, "titlePadding": 2}},
        "y": {"field": "lo2", "type": "quantitative", "title": "Residuals", "scale": {"domain": [-0.0049, 0.0052], "nice": false, "zero": false}, "axis": {"values": [0,0.005], "tickCount": 50, "format": ".3f", "labelOverlap": false, "minExtent": 46.8, "maxExtent": 46.8, "titlePadding": 2}},
        "y2": {"field": "hi2"}}},
      {"mark": {"type": "area", "color": "#1f77b4", "opacity": 0.95, "clip": true},
       "encoding": {"x": {"field": "phase", "type": "quantitative", "title": "Phase"}, "y": {"field": "lo1", "type": "quantitative", "title": "Residuals"}, "y2": {"field": "hi1"}}},
      {"mark": {"type": "rule", "color": "red", "strokeWidth": 1.8},
       "encoding": {"y": {"datum": 0, "type": "quantitative", "title": "Residuals"}}}
     ]}
   ], "spacing": 17, "bounds": "flush"}
  ], "spacing": 0},
  {"vconcat": [
   {"width": 586, "height": 239, "title": "Kepler-425\u00a0 b = 0.59, k = 0.11", "data": {"name": "k425"},
    "layer": [
     {"mark": {"type": "area", "color": "#1f77b4", "opacity": 0.32, "clip": true},
      "encoding": {"x": {"field": "phase", "type": "quantitative", "title": null, "scale": {"domain": [-0.0174, 0.0175], "nice": false, "zero": false}, "axis": {"values": [-0.015,-0.01,-0.005,0,0.005,0.01,0.015], "tickCount": 50, "labels": false}},
       "y": {"field": "lo2", "type": "quantitative", "title": "Flux", "scale": {"domain": [0.9804, 1.006], "nice": false, "zero": false}, "axis": {"values": [0.985,0.99,0.995,1,1.005], "tickCount": 50, "format": ".3f", "labelOverlap": false, "minExtent": 45.1, "maxExtent": 45.1, "titlePadding": 2}},
       "y2": {"field": "hi2"}}},
     {"mark": {"type": "area", "color": "#1f77b4", "opacity": 0.8, "clip": true},
      "encoding": {"x": {"field": "phase", "type": "quantitative", "title": null}, "y": {"field": "lo1", "type": "quantitative", "title": "Flux"}, "y2": {"field": "hi1"}}},
     {"mark": {"type": "line", "color": "red", "strokeWidth": 1.8, "clip": true},
      "encoding": {"x": {"field": "phase", "type": "quantitative", "title": null}, "y": {"field": "model", "type": "quantitative", "title": "Flux"}}}
    ]},
   {"width": 586, "height": 79, "data": {"name": "r425"},
    "layer": [
     {"mark": {"type": "area", "color": "#1f77b4", "opacity": 0.32, "clip": true},
      "encoding": {"x": {"field": "phase", "type": "quantitative", "title": "Phase", "scale": {"domain": [-0.0174, 0.0175], "nice": false, "zero": false}, "axis": {"values": [-0.015,-0.01,-0.005,0,0.005,0.01,0.015], "tickCount": 50, "format": ".3f", "labelOverlap": false, "titlePadding": 2}},
       "y": {"field": "lo2", "type": "quantitative", "title": "Residuals", "scale": {"domain": [-0.0055, 0.0055], "nice": false, "zero": false}, "axis": {"values": [-0.005,0,0.005], "tickCount": 50, "format": ".3f", "labelOverlap": false, "minExtent": 57.1, "maxExtent": 57.1, "titlePadding": 2}},
       "y2": {"field": "hi2"}}},
     {"mark": {"type": "area", "color": "#1f77b4", "opacity": 0.8, "clip": true},
      "encoding": {"x": {"field": "phase", "type": "quantitative", "title": "Phase"}, "y": {"field": "lo1", "type": "quantitative", "title": "Residuals"}, "y2": {"field": "hi1"}}},
     {"mark": {"type": "rule", "color": "red", "strokeWidth": 1.8},
      "encoding": {"y": {"datum": 0, "type": "quantitative", "title": "Residuals"}}}
    ]}
  ], "spacing": 17, "bounds": "flush"}
 ], "spacing": 48},
 {"hconcat": [
  {"hconcat": [
   {"width": 23, "height": 1, "data": {"values": []}, "mark": "point", "view": {"stroke": null}},
   {"vconcat": [
    {"width": 578, "height": 239, "title": "Kepler-491\u00a0 b = 0.38, k = 0.08", "data": {"name": "k491"},
     "layer": [
      {"mark": {"type": "area", "color": "#1f77b4", "opacity": 0.32, "clip": true},
       "encoding": {"x": {"field": "phase", "type": "quantitative", "title": null, "scale": {"domain": [-0.0187, 0.0187], "nice": false, "zero": false}, "axis": {"values": [-0.015,-0.01,-0.005,0,0.005,0.01,0.015], "tickCount": 50, "labels": false}},
        "y": {"field": "lo2", "type": "quantitative", "title": "Flux", "scale": {"domain": [0.9886, 1.0039], "nice": false, "zero": false}, "axis": {"values": [0.99,0.992,0.994,0.996,0.998,1,1.002], "tickCount": 50, "format": ".3f", "labelOverlap": false, "minExtent": 46.8, "maxExtent": 46.8, "titlePadding": 2}},
        "y2": {"field": "hi2"}}},
      {"mark": {"type": "area", "color": "#1f77b4", "opacity": 0.8, "clip": true},
       "encoding": {"x": {"field": "phase", "type": "quantitative", "title": null}, "y": {"field": "lo1", "type": "quantitative", "title": "Flux"}, "y2": {"field": "hi1"}}},
      {"mark": {"type": "line", "color": "red", "strokeWidth": 1.8, "clip": true},
       "encoding": {"x": {"field": "phase", "type": "quantitative", "title": null}, "y": {"field": "model", "type": "quantitative", "title": "Flux"}}}
     ]},
    {"width": 578, "height": 79, "data": {"name": "r491"},
     "layer": [
      {"mark": {"type": "area", "color": "#1f77b4", "opacity": 0.32, "clip": true},
       "encoding": {"x": {"field": "phase", "type": "quantitative", "title": "Phase", "scale": {"domain": [-0.0187, 0.0187], "nice": false, "zero": false}, "axis": {"values": [-0.015,-0.01,-0.005,0,0.005,0.01,0.015], "tickCount": 50, "format": ".3f", "labelOverlap": false, "titlePadding": 2}},
        "y": {"field": "lo2", "type": "quantitative", "title": "Residuals", "scale": {"domain": [-0.0037, 0.0043], "nice": false, "zero": false}, "axis": {"values": [-0.002,0,0.002,0.004], "tickCount": 50, "format": ".3f", "labelOverlap": false, "minExtent": 57.5, "maxExtent": 57.5, "titlePadding": 2}},
        "y2": {"field": "hi2"}}},
      {"mark": {"type": "area", "color": "#1f77b4", "opacity": 0.8, "clip": true},
       "encoding": {"x": {"field": "phase", "type": "quantitative", "title": "Phase"}, "y": {"field": "lo1", "type": "quantitative", "title": "Residuals"}, "y2": {"field": "hi1"}}},
      {"mark": {"type": "rule", "color": "red", "strokeWidth": 1.8},
       "encoding": {"y": {"datum": 0, "type": "quantitative", "title": "Residuals"}}}
     ]}
   ], "spacing": 17, "bounds": "flush"}
  ], "spacing": 0},
  {"vconcat": [
   {"width": 571, "height": 235, "title": "TrES-2\u00a0 b = 0.84, k = 0.13", "data": {"name": "tres"},
    "layer": [
     {"mark": {"type": "area", "color": "#1f77b4", "opacity": 0.45, "clip": true},
      "encoding": {"x": {"field": "phase", "type": "quantitative", "title": null, "scale": {"domain": [-0.02, 0.02], "nice": false, "zero": false}, "axis": {"values": [-0.02,-0.015,-0.01,-0.005,0,0.005,0.01,0.015,0.02], "tickCount": 50, "labels": false}},
       "y": {"field": "lo2", "type": "quantitative", "title": "Flux", "scale": {"domain": [0.98399, 1.0017], "nice": false, "zero": false}, "axis": {"values": [0.984,0.986,0.988,0.99,0.992,0.994,0.996,0.998,1], "tickCount": 50, "format": ".3f", "labelOverlap": false, "minExtent": 45.5, "maxExtent": 45.5, "titlePadding": 2}},
       "y2": {"field": "hi2"}}},
     {"mark": {"type": "area", "color": "#1f77b4", "opacity": 0.95, "clip": true},
      "encoding": {"x": {"field": "phase", "type": "quantitative", "title": null}, "y": {"field": "lo1", "type": "quantitative", "title": "Flux"}, "y2": {"field": "hi1"}}},
     {"mark": {"type": "line", "color": "red", "strokeWidth": 1.8, "clip": true},
      "encoding": {"x": {"field": "phase", "type": "quantitative", "title": null}, "y": {"field": "model", "type": "quantitative", "title": "Flux"}}}
    ]},
   {"width": 571, "height": 78, "data": {"name": "rtres"},
    "layer": [
     {"mark": {"type": "area", "color": "#1f77b4", "opacity": 0.4, "clip": true},
      "encoding": {"x": {"field": "phase", "type": "quantitative", "title": "Phase", "scale": {"domain": [-0.02, 0.02], "nice": false, "zero": false}, "axis": {"values": [-0.02,-0.015,-0.01,-0.005,0,0.005,0.01,0.015,0.02], "tickCount": 50, "format": ".3f", "labelOverlap": false, "titlePadding": 2}},
       "y": {"field": "lo2", "type": "quantitative", "title": "Residuals", "scale": {"domain": [-0.00104, 0.00114], "nice": false, "zero": false}, "axis": {"values": [-0.001,0,0.001], "tickCount": 50, "format": ".3f", "labelOverlap": false, "minExtent": 57.5, "maxExtent": 57.5, "titlePadding": 2}},
       "y2": {"field": "hi2"}}},
     {"mark": {"type": "area", "color": "#1f77b4", "opacity": 0.85, "clip": true},
      "encoding": {"x": {"field": "phase", "type": "quantitative", "title": "Phase"}, "y": {"field": "lo1", "type": "quantitative", "title": "Residuals"}, "y2": {"field": "hi1"}}},
     {"mark": {"type": "rule", "color": "red", "strokeWidth": 1.8},
      "encoding": {"y": {"datum": 0, "type": "quantitative", "title": "Residuals"}}}
    ]}
  ], "spacing": 22, "bounds": "flush"}
 ], "spacing": 25}
]
}
